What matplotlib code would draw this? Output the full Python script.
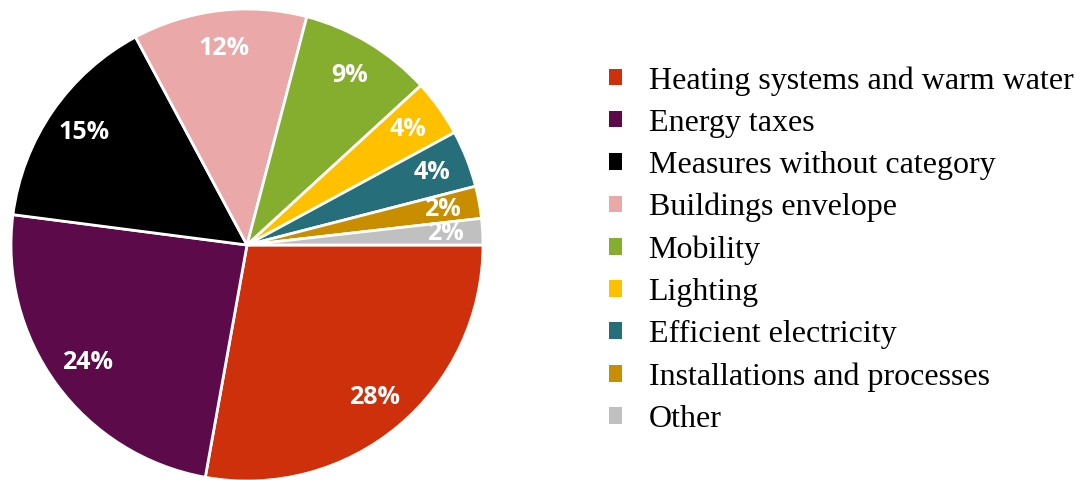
import matplotlib
matplotlib.use("Agg")
import matplotlib.pyplot as plt
import numpy as np

categories = ["Heating systems and warm water", "Energy taxes", "Measures without category",
              "Buildings envelope", "Mobility", "Lighting", "Efficient electricity",
              "Installations and processes", "Other"]
values = [27.8, 24.2, 15.1, 11.9, 9.1, 3.9, 3.9, 2.2, 1.8]
pct_labels = ["28%", "24%", "15%", "12%", "9%", "4%", "4%", "2%", "2%"]
colors = ["#CD300A", "#5C0A4A", "#000000", "#EAA8A8", "#86AE2E", "#FFC000",
          "#276E7B", "#C88E00", "#C0C0C0"]

fig = plt.figure(figsize=(10.81, 4.8), dpi=100)
cx, cy, R = 247, 245, 236
ax = fig.add_axes([(cx - R) / 1081, (480 - cy - R) / 480, 2 * R / 1081, 2 * R / 480])
wedges, _ = ax.pie(values, colors=colors, startangle=0, counterclock=False, radius=1,
                   wedgeprops=dict(edgecolor="white", linewidth=2))
total = sum(values)
ang = 0.0
for v, lab in zip(values, pct_labels):
    mid = np.deg2rad(-(ang + v / total * 360 / 2))
    ang += v / total * 360
    r = 0.84
    ax.text(r * np.cos(mid), r * np.sin(mid), lab, ha="center", va="center",
            color="white", fontsize=18, fontweight="bold", family="Open Sans")
ax.set_xlim(-1, 1)
ax.set_ylim(-1, 1)
ax.set_aspect("equal")
ax.axis("off")

leg = fig.legend(wedges, categories, loc="upper left", bbox_to_anchor=(609 / 1081, 1 - 66 / 480),
                 frameon=False, prop=dict(family="Liberation Serif", size=23),
                 handlelength=0.42, handleheight=0.42, handletextpad=0.82,
                 labelspacing=0.41, borderpad=0, borderaxespad=0)
for h in leg.legend_handles:
    h.set_edgecolor("none")

fig.savefig("out.png", dpi=100)
